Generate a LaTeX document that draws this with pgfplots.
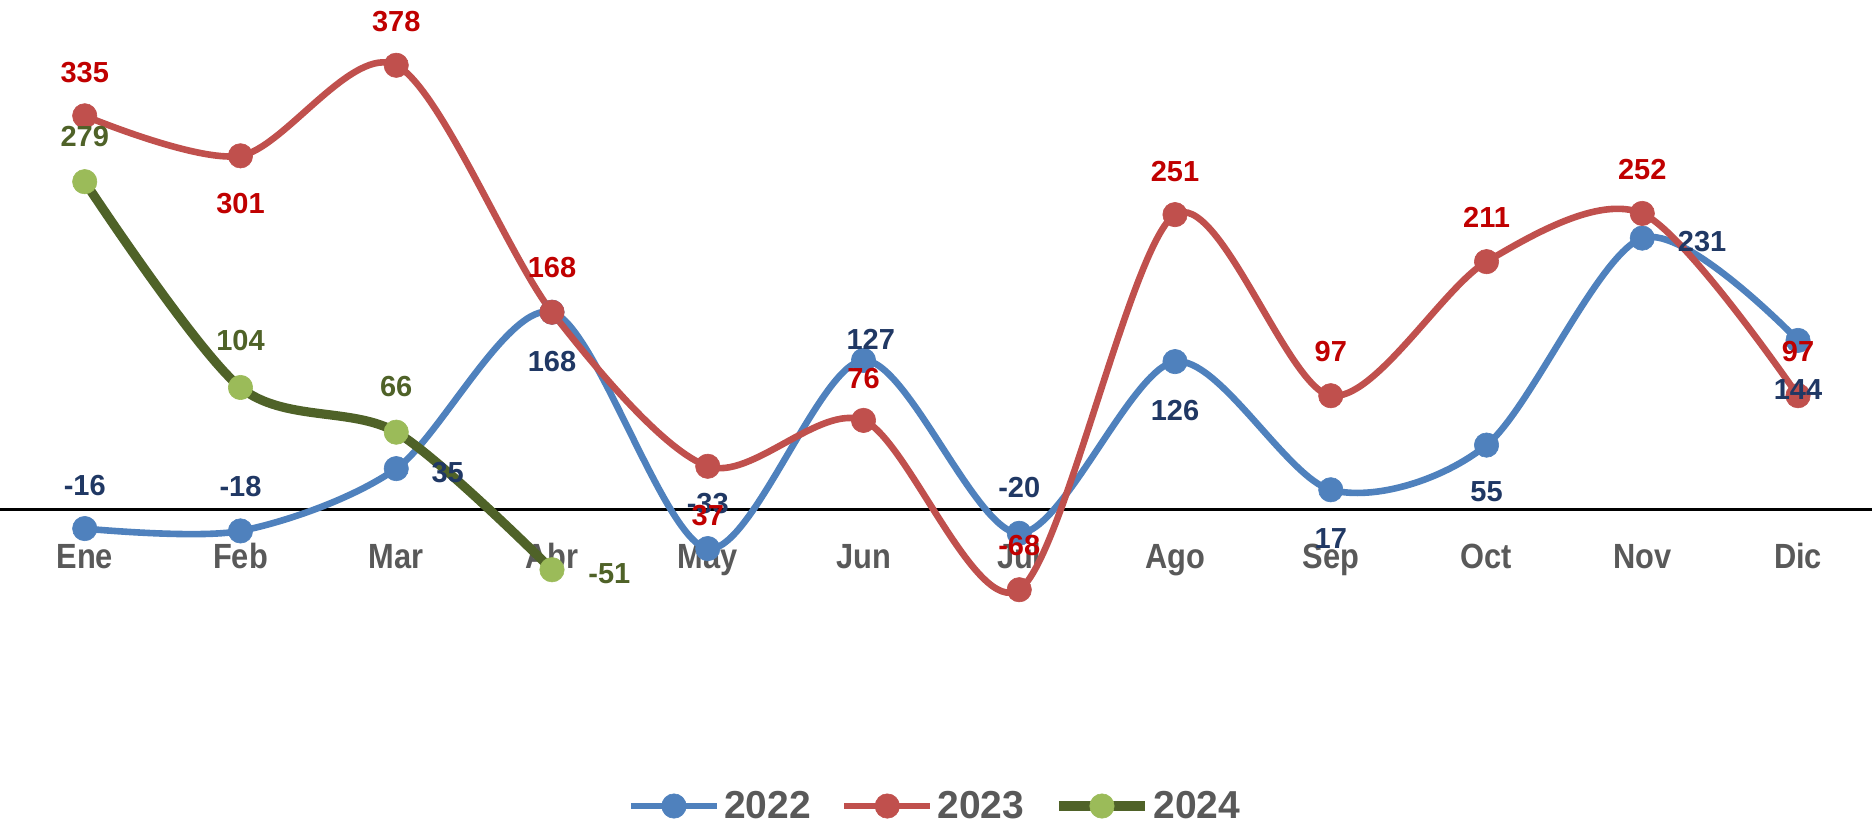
\documentclass[border=0pt]{standalone}
\usepackage{pgfplots}
\pgfplotsset{compat=1.18}
\usepackage{pgfplotstable}
\usepackage{fontspec}
\setmainfont{Liberation Sans}
\newfontfamily\cfont{Liberation Sans}[FakeStretch=0.88]
\definecolor{c22}{HTML}{4F81BD}
\definecolor{c23}{HTML}{C0504D}
\definecolor{c24}{HTML}{4F6228}
\definecolor{c24m}{HTML}{9BBB59}
\definecolor{l22}{HTML}{203864}
\definecolor{l23}{HTML}{C00000}
\definecolor{l24}{HTML}{4F6228}
\definecolor{tk}{HTML}{595959}

\pgfplotstableread{
x y dx dy
0 -16 0 21.5
1 -18 0 22.1
2 35 25.7 -1.8
3 168 0 -24.5
4 -33 0 22.7
5 127 3.6 10.7
6 -20 0 22.7
7 126 0 -24.5
8 17 0 -24.5
9 55 0 -23.3
10 231 29.9 -1.8
11 144 0 -24.5
}\tA
\pgfplotstableread{
x y dx dy
0 335 0 21.5
1 301 0 -23.9
2 378 0 22.1
3 168 0 22.1
4 37 0 -24.5
5 76 0 20.9
6 -68 0 22.1
7 251 0 21.5
8 97 0 22.1
9 211 0 22.1
10 252 0 22.1
11 97 0 22.1
}\tB
\pgfplotstableread{
x y dx dy
0 279 0 22.7
1 104 0 23.3
2 66 0 22.7
3 -51 28.7 -1.8
}\tC

\begin{document}
\begin{tikzpicture}
\begin{axis}[
  at={(0,0)}, anchor=north west, name=ax,
  scale only axis, width=936pt, height=382pt,
  xmin=-0.544, xmax=11.475, ymin=-216.2, ymax=433.5,
  axis x line=middle, axis y line=none,
  axis line style={-, black, line width=1.6pt},
  xtick={0,...,11},
  xticklabels={Ene,Feb,Mar,Abr,May,Jun,Jul,Ago,Sep,Oct,Nov,Dic},
  ytick=\empty,
  major tick length=0pt,
  xticklabel style={anchor=base, yshift=-29.5pt, text=tk, font=\cfont\fontsize{17.5}{19}\selectfont\bfseries},
  clip=false,
  legend columns=3,
  legend style={at={(0.5,-0.055)}, anchor=center, draw=none, fill=none,
    font=\fontsize{19.5}{21}\selectfont\bfseries, text=tk,
    /tikz/every even column/.append style={column sep=13pt},
    inner sep=0pt},
  legend image code/.code={
    \draw[mark repeat=2,mark phase=2,#1] plot coordinates {(0pt,0pt) (21.5pt,0pt) (43pt,0pt)};
  },
  every axis plot/.append style={smooth, mark=*, mark size=6.1pt},
  lab/.style={draw=none, mark=none, forget plot, nodes near coords, point meta=explicit symbolic,
    visualization depends on={\thisrow{dx} \as \dx},
    visualization depends on={\thisrow{dy} \as \dy},
    nodes near coords style={anchor=center, xshift=\dx*1pt, yshift=\dy*1pt, inner sep=0pt,
      font=\fontsize{14.5}{16}\selectfont\bfseries, text=#1}},
]
\addplot[c22, line width=3.3pt, mark options={solid, fill=c22, draw=c22, line width=0.3pt}] table[x=x,y=y] \tA;
\addlegendentry{2022}
\addplot[c23, line width=3.3pt, mark options={solid, fill=c23, draw=c23, line width=0.3pt}] table[x=x,y=y] \tB;
\addlegendentry{2023}
\addplot[c24, line width=4.6pt, mark options={solid, fill=c24m, draw=c24m, line width=0.3pt}] table[x=x,y=y] \tC;
\addlegendentry{2024}
\addplot[lab=l22] table[x=x,y=y,meta=y] \tA;
\addplot[lab=l23] table[x=x,y=y,meta=y] \tB;
\addplot[lab=l24] table[x=x,y=y,meta=y] \tC;
\end{axis}
\pgfresetboundingbox
\useasboundingbox (0,0) rectangle (936pt,-414.5pt);
\end{tikzpicture}
\end{document}
